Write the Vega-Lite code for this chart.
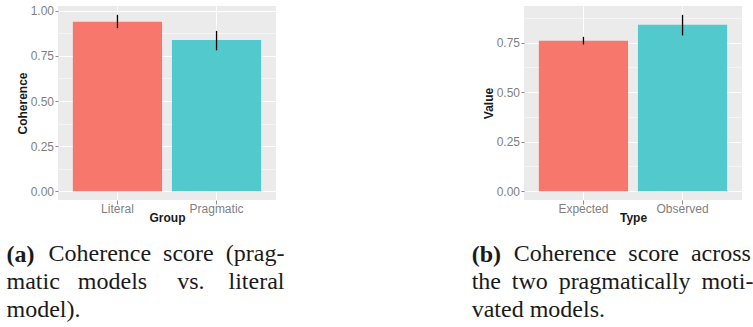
{
  "$schema": "https://vega.github.io/schema/vega-lite/v6.json",
  "background": "white",
  "padding": {"left": 6, "top": 4, "right": 0, "bottom": 0},
  "bounds": "flush",
  "spacing": 248,
  "datasets": {
    "coherence": [
      {"group": "Literal", "value": 0.94, "lo": 0.904, "hi": 0.978},
      {"group": "Pragmatic", "value": 0.839, "lo": 0.781, "hi": 0.889}
    ],
    "types": [
      {"group": "Expected", "value": 0.759, "lo": 0.740, "hi": 0.779},
      {"group": "Observed", "value": 0.840, "lo": 0.786, "hi": 0.890}
    ]
  },
  "config": {
    "view": {"stroke": null, "fill": "#EBEBEB"},
    "axis": {
      "labelFont": "Liberation Sans",
      "labelFontSize": 12,
      "labelColor": "#7F7F7F",
      "titleFont": "Liberation Sans",
      "titleFontSize": 12,
      "titleFontWeight": "bold",
      "titleColor": "#1A1A1A",
      "tickColor": "#8C8C8C",
      "tickWidth": 1,
      "domain": false,
      "gridColor": "#FFFFFF",
      "gridWidth": 1.1,
      "gridOpacity": 1
    },
    "axisX": {"tickSize": 4, "labelPadding": -1, "titlePadding": -2, "labelAngle": 0},
    "axisY": {"tickSize": 3, "labelPadding": 1.5, "titlePadding": 1},
    "title": {
      "font": "Liberation Serif",
      "fontSize": 24,
      "fontWeight": "bold",
      "color": "#1A1A1A",
      "lineHeight": 28,
      "subtitleFont": "Liberation Serif",
      "subtitleFontSize": 24,
      "subtitleFontWeight": "normal",
      "subtitleColor": "#1A1A1A",
      "subtitleLineHeight": 28
    }
  },
  "hconcat": [
    {
      "width": 218,
      "height": 194,
      "data": {"name": "coherence"},
      "title": {
        "text": "(a)",
        "subtitle": [
          "\u200b\u00a0\u00a0\u00a0\u00a0\u00a0\u00a0\u00a0Coherence\u00a0\u00a0score\u00a0\u00a0(prag-",
          "matic\u00a0\u00a0\u00a0models\u00a0\u00a0\u00a0\u00a0\u00a0vs.\u00a0\u00a0\u00a0\u00a0literal",
          "model)."
        ],
        "orient": "bottom",
        "anchor": "start",
        "frame": "group",
        "dx": -51.5,
        "offset": 20,
        "subtitlePadding": -25
      },
      "layer": [
        {
          "mark": {"type": "bar"},
          "encoding": {
            "x": {
              "field": "group", "type": "nominal", "title": "Group",
              "scale": {"paddingInner": 0.1, "paddingOuter": 0.15},
              "axis": {"grid": true}
            },
            "y": {
              "field": "value", "type": "quantitative", "title": "Coherence",
              "scale": {"domain": [-0.0489, 1.0269], "nice": false, "zero": false},
              "axis": {"values": [0, 0.25, 0.5, 0.75, 1], "format": ".2f", "grid": true}
            },
            "color": {
              "field": "group", "type": "nominal", "legend": null,
              "scale": {"range": ["#F8776D", "#51C9CD"]}
            }
          }
        },
        {
          "mark": {"type": "rule", "color": "black", "strokeWidth": 1.3},
          "encoding": {
            "x": {"field": "group", "type": "nominal"},
            "y": {
              "field": "lo", "type": "quantitative",
              "scale": {"domain": [-0.0489, 1.0269], "nice": false, "zero": false},
              "axis": {
                "orient": "right",
                "values": [0.125, 0.375, 0.625, 0.875], "grid": true, "gridWidth": 0.5,
                "labels": false, "ticks": false, "title": null
              }
            },
            "y2": {"field": "hi"}
          }
        }
      ],
      "resolve": {"axis": {"y": "independent"}}
    },
    {
      "width": 218,
      "height": 194,
      "data": {"name": "types"},
      "title": {
        "text": "(b)",
        "subtitle": [
          "\u200b\u00a0\u00a0\u00a0\u00a0\u00a0\u00a0\u00a0Coherence\u00a0\u00a0score\u00a0\u00a0across",
          "the\u00a0\u2009two\u00a0\u2009pragmatically\u00a0\u2009moti-",
          "vated models."
        ],
        "orient": "bottom",
        "anchor": "start",
        "frame": "group",
        "dx": -52.3,
        "offset": 20,
        "subtitlePadding": -25
      },
      "layer": [
        {
          "mark": {"type": "bar"},
          "encoding": {
            "x": {
              "field": "group", "type": "nominal", "title": "Type",
              "scale": {"paddingInner": 0.1, "paddingOuter": 0.15},
              "axis": {"grid": true}
            },
            "y": {
              "field": "value", "type": "quantitative", "title": "Value",
              "scale": {"domain": [-0.0445, 0.9345], "nice": false, "zero": false},
              "axis": {"values": [0, 0.25, 0.5, 0.75], "format": ".2f", "grid": true}
            },
            "color": {
              "field": "group", "type": "nominal", "legend": null,
              "scale": {"range": ["#F8776D", "#51C9CD"]}
            }
          }
        },
        {
          "mark": {"type": "rule", "color": "black", "strokeWidth": 1.3},
          "encoding": {
            "x": {"field": "group", "type": "nominal"},
            "y": {
              "field": "lo", "type": "quantitative",
              "scale": {"domain": [-0.0445, 0.9345], "nice": false, "zero": false},
              "axis": {
                "orient": "right",
                "values": [0.125, 0.375, 0.625, 0.875], "grid": true, "gridWidth": 0.5,
                "labels": false, "ticks": false, "title": null
              }
            },
            "y2": {"field": "hi"}
          }
        }
      ],
      "resolve": {"axis": {"y": "independent"}}
    }
  ],
  "resolve": {"scale": {"color": "independent"}}
}
